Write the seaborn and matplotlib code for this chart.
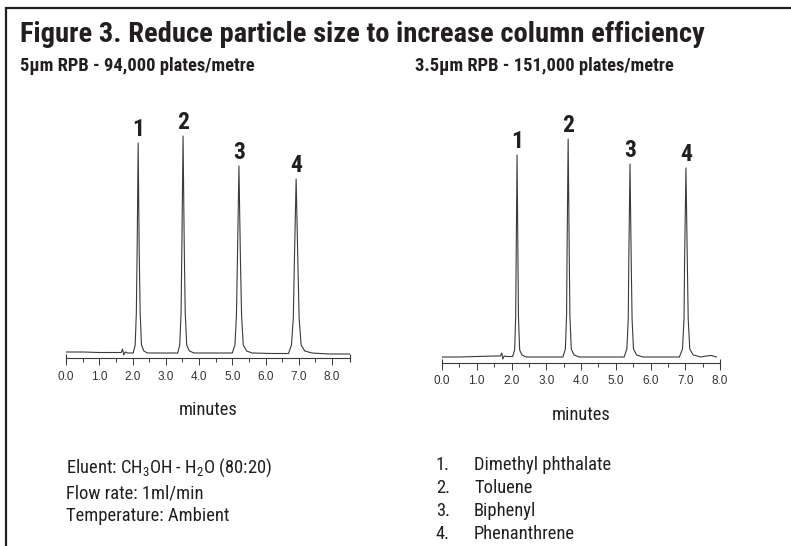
import numpy as np
import pandas as pd
import matplotlib
matplotlib.use('Agg')
import matplotlib.pyplot as plt
from matplotlib import font_manager as fm
from matplotlib.lines import Line2D
import seaborn as sns

sns.set_theme(style='white')

# pick a condensed face if one is installed
_have = {f.name for f in fm.fontManager.ttflist}
NARROW = next((f for f in ['Roboto Condensed', 'Liberation Sans Narrow', 'Arial Narrow',
                           'PT Sans Narrow', 'Archivo Narrow'] if f in _have), 'Liberation Sans')
plt.rcParams['font.family'] = [NARROW, 'DejaVu Sans']
plt.rcParams['mathtext.fontset'] = 'custom'
plt.rcParams['mathtext.rm'] = NARROW
plt.rcParams['mathtext.it'] = NARROW + ':italic'
INK = '#231f20'

# ---------- data ----------
peak_ids = ['1', '2', '3', '4']
compounds = ['Dimethyl phthalate', 'Toluene', 'Biphenyl', 'Phenanthrene']

# 5um column
ret_5 = [2.17, 3.52, 5.20, 6.92]
height_5 = [210, 217, 187, 174]
time_5 = [0.00, 0.50, 1.00, 1.50, 1.66, 1.70, 1.74, 1.78, 1.85, 2.00,
          2.02, 2.08, 2.115, 2.14, 2.17, 2.20, 2.23, 2.27, 2.34, 2.45,
          2.90, 3.36, 3.42, 3.46, 3.485, 3.52, 3.555, 3.585, 3.63, 3.71, 3.85,
          4.50, 5.00, 5.08, 5.125, 5.155, 5.20, 5.245, 5.28, 5.33, 5.43, 5.60,
          6.20, 6.69, 6.78, 6.835, 6.865, 6.92, 6.975, 7.01, 7.07, 7.18, 7.40,
          7.90, 8.54]
signal_5 = [1, 1, 0.5, 0.5, 0.5, 4, -2, 1, 0, 0,
            0, 8, 40, 105, 210, 105, 40, 8, 2, 0,
            0, 0, 8, 40, 108, 217, 108, 40, 8, 2, 0,
            0, 0, 8, 37, 94, 187, 94, 37, 8, 2, 0,
            -0.5, -0.5, 8, 35, 87, 174, 87, 35, 8, 2, 0,
            -1, -1]

# 3.5um column
ret_35 = [2.16, 3.63, 5.41, 7.02]
height_35 = [202, 218, 193, 189]
time_35 = [-0.10, 0.50, 1.00, 1.50, 1.68, 1.72, 1.75, 1.79, 1.86, 2.00,
           2.03, 2.09, 2.12, 2.135, 2.16, 2.185, 2.20, 2.235, 2.30, 2.42,
           3.00, 3.48, 3.55, 3.585, 3.60, 3.63, 3.66, 3.68, 3.72, 3.80, 3.95,
           4.60, 5.24, 5.32, 5.36, 5.375, 5.41, 5.445, 5.47, 5.51, 5.60, 5.78,
           6.40, 6.83, 6.92, 6.965, 6.98, 7.02, 7.06, 7.085, 7.13, 7.23, 7.45,
           7.60, 7.75, 7.90]
signal_35 = [0, 0, 0.5, 1, 1, 4, -2, 1, 0.5, 0.5,
             0.5, 7, 40, 101, 202, 101, 40, 7, 2, 0,
             0, 0, 8, 42, 109, 218, 109, 42, 8, 2, 0,
             0, 0, 8, 38, 96, 193, 96, 38, 8, 2, 0,
             0, 0, 8, 38, 94, 189, 94, 38, 8, 2, 0,
             1, 1.5, 0]

major_ticks = np.arange(0, 9, 1.0)
minor_ticks = np.arange(0.5, 8.5, 1.0)

W, H = 791, 546
fig = plt.figure(figsize=(W / 100, H / 100), dpi=100)


def px_axes(left, top, right, bottom):
    return fig.add_axes([left / W, 1 - bottom / H, (right - left) / W, (bottom - top) / H])


def draw_chrom(ax, t, s, rts, hs, xmax, ylo, yhi, axis_y):
    df = pd.DataFrame({'time': t, 'signal': s})
    sns.lineplot(data=df, x='time', y='signal', ax=ax, color='#3a3a3a',
                 lw=0.8, sort=False, estimator=None)
    ax.set_xlim(0, xmax)
    ax.set_ylim(ylo, yhi)
    for sp in ['top', 'right', 'left']:
        ax.spines[sp].set_visible(False)
    ax.spines['bottom'].set_position(('data', axis_y))
    ax.spines['bottom'].set_color('#3a3a3a')
    ax.spines['bottom'].set_linewidth(0.8)
    ax.spines['bottom'].set_bounds(0, xmax)
    ax.set_yticks([])
    ax.set_xticks(major_ticks)
    ax.set_xticks(minor_ticks, minor=True)
    ax.set_xticklabels([f'{v:.1f}' for v in major_ticks], family='Liberation Sans',
                       fontsize=8.5, color='#333333')
    ax.tick_params(axis='x', which='major', direction='out', length=5, width=0.7,
                   color='#3a3a3a', pad=4, bottom=True)
    ax.tick_params(axis='x', which='minor', direction='out', length=3, width=0.7,
                   color='#3a3a3a', bottom=True)
    ax.vlines([0, xmax], axis_y - 4, axis_y + 4, color='#3a3a3a', lw=0.8, clip_on=False)
    ax.set_xlabel('minutes', fontsize=13.3, color=INK, labelpad=13)
    ax.set_ylabel('')
    ax.patch.set_alpha(0)
    for lab, rt, h in zip(peak_ids, rts, hs):
        ax.annotate(lab, (rt, h), xytext=(0, 10), textcoords='offset points',
                    ha='center', va='center', fontsize=17, fontweight='bold', color=INK)


ax1 = px_axes(66, 128, 350, 361)
draw_chrom(ax1, time_5, signal_5, ret_5, height_5, 8.54, -8, 225, -5)

ax2 = px_axes(442, 132, 720, 366)
draw_chrom(ax2, time_35, signal_35, ret_35, height_35, 8.0, -9, 225, -6)

# ---------- text ----------
def ftext(x, y, s, **kw):
    kw.setdefault('color', INK)
    fig.text(x / W, 1 - y / H, s, va='center', **kw)

ftext(20, 35, 'Figure 3. Reduce particle size to increase column efficiency',
      fontsize=20.5, fontweight='bold')
ftext(20, 66, '5µm RPB - 94,000 plates/metre', fontsize=13.3, fontweight='bold')
ftext(415, 66, '3.5µm RPB - 151,000 plates/metre', fontsize=13.3, fontweight='bold')

ftext(66, 468, 'Eluent: CH$_3$OH - H$_2$O (80:20)', fontsize=13.3)
ftext(66, 494, 'Flow rate: 1ml/min', fontsize=13.3)
ftext(66, 516, 'Temperature: Ambient', fontsize=13.3)

for i, name in enumerate(compounds):
    y = 465 + i * 23
    ftext(436, y, f'{peak_ids[i]}.', fontsize=13.3)
    ftext(474, y, name, fontsize=13.3)

# frame (top and left)
fig.add_artist(Line2D([6 / W, 6 / W], [0, 1 - 7.5 / H], transform=fig.transFigure,
                      color=INK, lw=1.6, solid_capstyle='butt'))
fig.add_artist(Line2D([6 / W, 1], [1 - 7.5 / H, 1 - 7.5 / H], transform=fig.transFigure,
                      color=INK, lw=1.6, solid_capstyle='projecting'))

fig.savefig('out.png', dpi=100)
